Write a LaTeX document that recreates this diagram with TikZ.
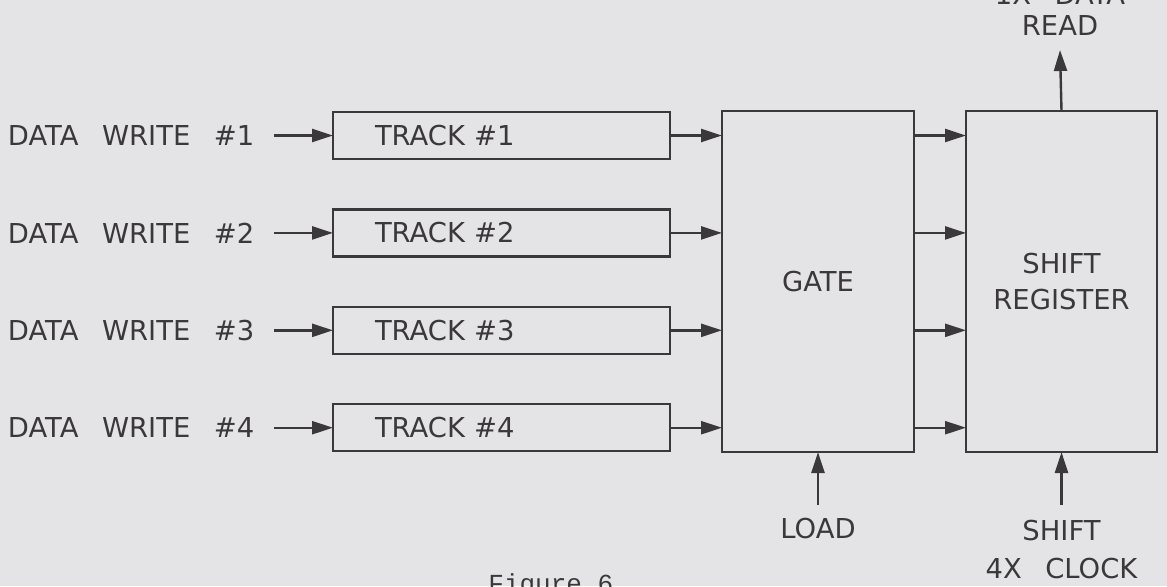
\documentclass[tikz,border=0pt]{standalone}
\usepackage{fontspec}
\usetikzlibrary{arrows.meta}
\newfontfamily\letterface{DejaVu Sans}[WordSpace=2.7]
\newfontfamily\typeface{Liberation Mono}
\newcommand{\lettering}{\letterface\fontsize{13.7pt}{19pt}\selectfont}
\definecolor{ink}{RGB}{58,56,58}
\definecolor{paper}{RGB}{228,228,230}
\tikzset{
  lbl/.style={font=\lettering, text=ink, inner sep=0pt, outer sep=0pt},
  blk/.style={draw=ink, line width=1.2pt, outer sep=0pt, font=\lettering, text=ink},
  arr/.style={draw=ink, line width=1.2pt, -{Triangle[length=10.5pt,width=6.5pt]}},
  trackbox/.style={blk, anchor=north west, minimum height=23.5pt,
    inner xsep=21pt, text width=126.5pt, align=left},
}
\begin{document}
\begin{tikzpicture}[x=0.5pt, y=-0.5pt]
  % page and background
  \fill[paper] (0,0) rectangle (1167,586);
  \useasboundingbox (0,0) rectangle (1167,586);

  % the four write channels and their tracks
  \foreach \k/\yy in {1/112, 2/209.4, 3/306.8, 4/404.2} {
    \node[trackbox] (trk\k) at (333,\yy) {TRACK \#\k};
    \node[lbl, anchor=west] (dw\k) at (8,\yy+23.5) {DATA WRITE \#\k};
    \draw[arr] ([xshift=10pt]dw\k.east) -- (trk\k.west);
  }

  % gate and shift register
  \node[blk, minimum width=96pt, minimum height=170.5pt] (gate) at (818,281.5) {GATE};
  \node[blk, minimum width=95.5pt, minimum height=170.5pt, align=center,
        font=\letterface\fontsize{13.7pt}{18pt}\selectfont] (sreg) at (1061.5,281.5) {SHIFT\\REGISTER};

  \foreach \k in {1,...,4} {
    \draw[arr] (trk\k.east) -- (trk\k.east -| gate.west);
    \draw[arr] (gate.east |- trk\k.east) -- (sreg.west |- trk\k.east);
  }

  % output
  \node[lbl, align=center, anchor=south,
        font=\letterface\fontsize{13.7pt}{15.5pt}\selectfont] (read) at (1060,35) {1X DATA\\READ};
  \draw[arr] (sreg.north) -- ([yshift=-7.5pt]read.south);

  % control inputs
  \node[lbl, anchor=north] (load) at (818,518) {LOAD};
  \draw[arr] ([yshift=6.5pt]load.north) -- (gate.south);

  \node[lbl, align=center, anchor=north] (clock) at (1061.5,520) {SHIFT\\4X CLOCK};
  \draw[arr] ([yshift=7.5pt]clock.north) -- (sreg.south);

  % caption
  \node[anchor=base west, inner sep=0pt, text=ink,
        font=\typeface\fontsize{13pt}{15pt}\selectfont] (caption) at (488,592) {Figure 6};
\end{tikzpicture}
\end{document}
